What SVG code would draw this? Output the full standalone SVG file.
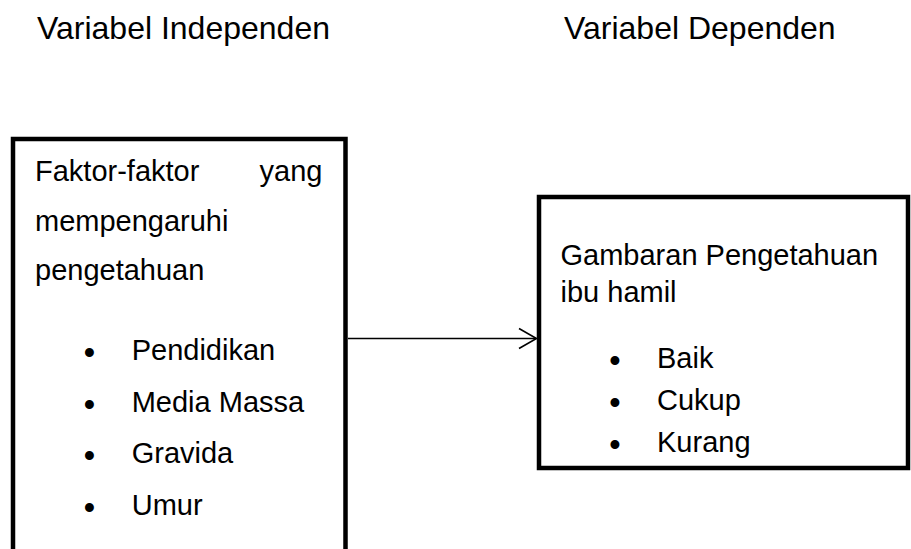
<svg xmlns="http://www.w3.org/2000/svg" width="911" height="549" viewBox="0 0 911 549">
<style>
text{font-family:"Liberation Sans",Arial,sans-serif;fill:#000}
.h{font-size:32px}
.t{font-size:29px}
.b{font-size:31px;font-weight:bold}
.box{fill:none;stroke:#000;stroke-width:4.5}
.conn{fill:none;stroke:#000;stroke-width:1.6}
</style>
<rect width="911" height="549" fill="#fff"/>
<g id="header-independen"><text class="h" x="37" y="38.5">Variabel Independen</text></g>
<g id="header-dependen"><text class="h" x="564" y="38.5">Variabel Dependen</text></g>
<g id="node-faktor">
<path class="box" d="M13,552 V139 H345.5 V552"/>
<text class="t" x="35" y="181">Faktor-faktor</text>
<text class="t" x="322.5" y="181" text-anchor="end">yang</text>
<text class="t" x="35" y="230.5">mempengaruhi</text>
<text class="t" x="35" y="280">pengetahuan</text>
<text class="b" x="84" y="363">•</text><text class="t" x="131.7" y="360">Pendidikan</text>
<text class="b" x="84" y="414.5">•</text><text class="t" x="131.7" y="411.5">Media Massa</text>
<text class="b" x="84" y="466">•</text><text class="t" x="131.7" y="463">Gravida</text>
<text class="b" x="84" y="518">•</text><text class="t" x="131.7" y="515">Umur</text>
</g>
<g id="node-gambaran">
<rect class="box" x="539" y="197" width="369" height="271"/>
<text class="t" x="560.5" y="265">Gambaran Pengetahuan</text>
<text class="t" x="560.5" y="301.5">ibu hamil</text>
<text class="b" x="609.5" y="371">•</text><text class="t" x="657" y="368">Baik</text>
<text class="b" x="609.5" y="413">•</text><text class="t" x="657" y="410">Cukup</text>
<text class="b" x="609.5" y="455">•</text><text class="t" x="657" y="452">Kurang</text>
</g>
<g id="connectors">
<line class="conn" x1="348" y1="338.5" x2="536" y2="338.5"/>
<polyline class="conn" points="519,328.5 536.5,338.5 519,348.5"/>
</g>
</svg>
